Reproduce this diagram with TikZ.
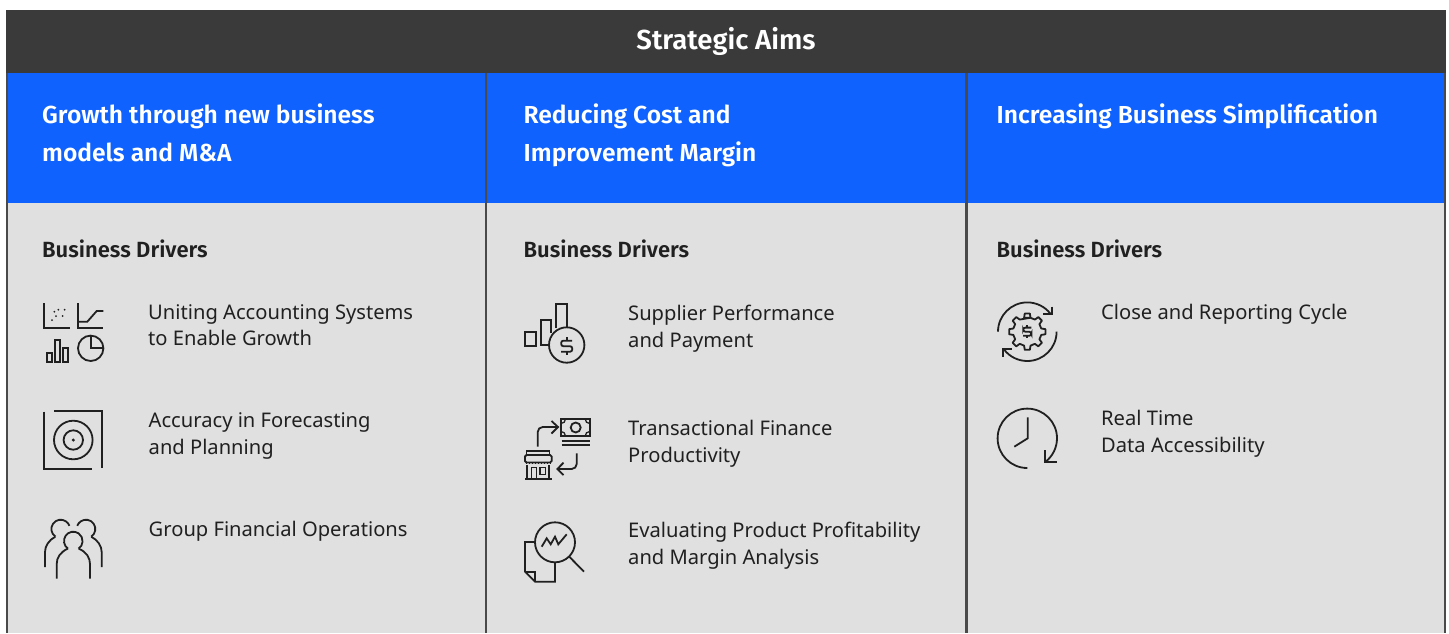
\documentclass[tikz,border=0pt]{standalone}
\usepackage{fontspec}
\setmainfont{Noto Sans}
\newfontfamily\headfont[BoldFont={Fira Sans SemiBold}]{Fira Sans}
\definecolor{dark}{HTML}{3A3A3A}
\definecolor{ibmblue}{HTML}{0F62FE}
\definecolor{panel}{HTML}{E0E0E0}
\definecolor{ink}{HTML}{202020}
\definecolor{rulecol}{HTML}{4A4A4A}
\tikzset{
  ico/.style={draw=ink,line width=1.8pt,line cap=butt,line join=miter,fill=none},
  icothin/.style={draw=ink,line width=1.3pt,fill=none},
  title/.style={font=\headfont\fontsize{27.5}{28}\selectfont\bfseries,text=white,inner sep=0pt},
  aimhead/.style={font=\headfont\fontsize{24.6}{38}\selectfont\bfseries,text=white,inner sep=0pt,anchor=north west,align=left},
  drvhead/.style={font=\headfont\fontsize{22}{24}\selectfont\bfseries,text=ink,inner sep=0pt,anchor=base west},
  lab/.style={font=\fontsize{20.15}{27}\selectfont,text=ink,inner sep=0pt,anchor=north west,align=left},
}
\newcommand{\fs}{\rule{0pt}{14pt}}
\newcommand{\bigfs}{\rule{0pt}{16pt}}
\newcommand{\dollar}[2]{\begin{scope}[shift={(#1)},scale=#2]
  \draw[ico,rounded corners=2.2pt] (6,-6) -- (-6,-6) -- (-6,0) -- (6,0) -- (6,6) -- (-6,6);
  \draw[ico] (0,-6) -- (0,-9.5) (0,6) -- (0,9.5);
\end{scope}}
\begin{document}
\begin{tikzpicture}[x=1pt,y=-1pt]
\useasboundingbox (0,0) rectangle (1449,633);
\fill[white] (0,0) rectangle (1449,633);
\fill[rulecol] (6,73) rectangle (1445.5,633);
\fill[panel] (8,203) rectangle (484.6,633);
\fill[panel] (487,203) rectangle (965.2,633);
\fill[panel] (967.6,203) rectangle (1444,633);
\fill[ibmblue] (8,73) rectangle (484.6,203);
\fill[ibmblue] (487,73) rectangle (965.2,203);
\fill[ibmblue] (967.6,73) rectangle (1444,203);
\fill[dark] (6,10) rectangle (1445.5,73);
\node[title] (main) at (726,41.5) {Strategic Aims};
\node[aimhead] (a1) at (42,104) {\bigfs Growth through new business\\models and M\&A};
\node[aimhead] (a2) at (523.5,104) {\bigfs Reducing Cost and\\Improvement Margin};
\node[aimhead] (a3) at (996.5,104) {\bigfs Increasing Business Simplification};
\node[drvhead] (d1) at (42,257) {Business Drivers};
\node[drvhead] (d2) at (523.5,257) {Business Drivers};
\node[drvhead] (d3) at (996.5,257) {Business Drivers};
\node[lab] (l1) at (148,304) {\fs Uniting Accounting Systems\\[-1pt]to Enable Growth};
\node[lab] (l2) at (148.5,412) {\fs Accuracy in Forecasting\\and Planning};
\node[lab] (l3) at (148.5,521) {\fs Group Financial Operations};
\node[lab] (l4) at (628,305) {\fs Supplier Performance\\and Payment};
\node[lab] (l5) at (628,420) {\fs Transactional Finance\\Productivity};
\node[lab] (l6) at (628,522) {\fs Evaluating Product Profitability\\and Margin Analysis};
\node[lab] (l7) at (1101,304) {\fs Close and Reporting Cycle};
\node[lab] (l8) at (1101,410) {\fs Real Time\\Data Accessibility};
% icon: charts
\draw[ico] (44.3,303.3) -- (44.3,327.7) -- (70,327.7);
\foreach \p in {(54.3,311.7),(58.3,309.7),(64.7,309.7),(56,316),(62.7,316),(52,320)}
  \fill[ink] \p circle[radius=1pt];
\draw[ico] (78.3,303.3) -- (78.3,327.7) -- (103.3,327.7);
\draw[ico] (78.3,321.7) -- (87.3,321.7) -- (96.7,311) -- (103.3,311);
\draw[ico] (46.7,352.7) rectangle (51.7,361.7);
\draw[ico] (55,340) rectangle (60,361.7);
\draw[ico] (63.3,348.3) rectangle (68.3,361.7);
\draw[ico] (90.7,348.3) circle[radius=12.7pt];
\draw[ico] (90.7,335.6) -- (90.7,348.3) -- (103.4,348.3);
% icon: target
\draw[ico] (44.3,411.7) -- (44.3,468.7) -- (92.3,468.7);
\draw[ico] (54.3,410.7) -- (102,410.7) -- (102,468.3);
\draw[ico] (73.3,440) circle[radius=19.3pt];
\draw[ico] (73.3,440) circle[radius=9.7pt];
\fill[ink] (73.3,440) circle[radius=1.7pt];
% icon: people
\draw[ico] (60.7,529) ++(235:9.3pt) arc[start angle=235,end angle=20,radius=9.3pt];
\draw[ico] (86,529) ++(-55:9.3pt) arc[start angle=-55,end angle=160,radius=9.3pt];
\draw[ico] (55.3,536.7) .. controls (49,540) and (45,546) .. (45,552) -- (45,567);
\draw[ico] (91.3,536.7) .. controls (97.7,540) and (101.7,546) .. (101.7,552) -- (101.7,567);
\draw[ico] (73.3,541) ++(235:9.3pt) arc[start angle=235,end angle=-55,radius=9.3pt];
\draw[ico] (68,548.6) .. controls (60,552) and (56.7,558) .. (56.7,564) -- (56.7,578.5);
\draw[ico] (78.7,548.6) .. controls (86.7,552) and (90,558) .. (90,564) -- (90,578.5);
% icon: bars and coin
\draw[ico] (525,331.7) rectangle (535.7,345.7);
\draw[ico] (551,333) -- (551,320) -- (540.7,320) -- (540.7,345) -- (549,345);
\draw[ico] (556.3,328) -- (556.3,304.3) -- (566.7,304.3) -- (566.7,327.5);
\draw[ico] (566.7,345) circle[radius=17.7pt];
\dollar{566.7,346.2}{0.92}
% icon: money and store
\draw[ico] (561,419) rectangle (589.7,436);
\draw[ico] (575.7,427.5) circle[radius=5pt];
\draw[icothin] (561,423.5) arc[start angle=-90,end angle=0,radius=4.5pt];
\draw[icothin] (589.7,423.5) arc[start angle=-90,end angle=-180,radius=4.5pt];
\draw[icothin] (561,431.5) arc[start angle=90,end angle=0,radius=4.5pt];
\draw[icothin] (589.7,431.5) arc[start angle=90,end angle=180,radius=4.5pt];
\draw[ico] (561.5,440.7) -- (589.7,440.7) (561.5,445) -- (589.7,445);
\draw[ico,rounded corners=5pt] (537.7,446.7) -- (537.7,427) -- (558,427);
\draw[ico] (551.5,421) -- (558,427) -- (551.5,433.5);
\draw[ico,rounded corners=5pt] (576.7,453.3) -- (576.7,469) -- (557.3,469);
\draw[ico] (563.5,462.7) -- (557.3,469) -- (563.5,475);
\draw[icothin] (526.7,455) -- (526.7,451) -- (549.3,451) -- (549.3,455);
\draw[ico,rounded corners=1.5pt] (525,455) rectangle (551.7,462.5);
\draw[icothin,dash pattern=on 1.2pt off 1.8pt] (526,463.8) -- (551,463.8);
\draw[ico] (526.7,465) -- (526.7,479) (549.3,465) -- (549.3,479);
\draw[ico] (525,479) -- (551.5,479);
\draw[icothin] (531.7,478) -- (531.7,467.7) -- (536.7,467.7) -- (536.7,478);
\draw[icothin] (540,467.7) rectangle (545.7,474.3);
% icon: magnifier and document
\draw[ico] (555,542.3) circle[radius=20pt];
\draw[ico] (569.3,556.7) -- (584,571.7);
\draw[ico] (541.7,546.7) -- (546.7,538.3) -- (550.7,544.3) -- (555,536.7) -- (558.3,544.3) -- (566.7,534.3);
\draw[ico] (535,542) -- (525,542) -- (525,571.7) -- (535,581.7) -- (555,581.7) -- (555,562.3);
\draw[ico] (525,571.7) -- (535,571.7) -- (535,581.7);
% icon: gear cycle
\begin{scope}[shift={(1027.3,331.7)}]
  \draw[ico] (180:29.3pt) arc[start angle=180,end angle=38,radius=29.3pt];
  \draw[ico] (0:29.3pt) arc[start angle=0,end angle=-142,radius=29.3pt];
  \draw[ico,line join=round] (90-13:14.3pt)
    \foreach \a in {90,45,0,-45,-90,-135,-180,-225}{
      -- (\a+13:14.3pt) -- (\a+8:18.3pt) -- (\a-8:18.3pt) -- (\a-13:14.3pt)
    } -- cycle;
\end{scope}
\dollar{1027.3,331.7}{0.68}
\draw[ico] (1051.7,306.5) -- (1051.7,314) -- (1043.3,314);
\draw[ico] (1003.3,356.7) -- (1003.3,349.3) -- (1011.7,349.3);
% icon: clock
\draw[ico] (1027.3,468) arc[start angle=270,end angle=-53,radius=29.7pt];
\draw[ico] (1045.3,450) -- (1045.3,462.3) -- (1057,462.3);
\draw[ico] (1027.7,417.3) -- (1027.7,438.3) -- (1014.3,446.7);
\end{tikzpicture}
\end{document}
